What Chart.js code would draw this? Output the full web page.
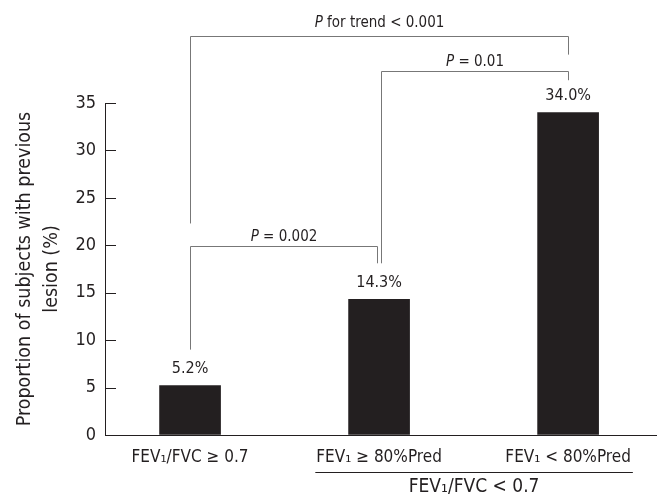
<!DOCTYPE html>
<html>
<head>
<meta charset="utf-8">
<script src="https://cdn.jsdelivr.net/npm/chart.js@4.4.0/dist/chart.umd.min.js"></script>
<style>
  html, body { margin: 0; padding: 0; background: #fff; }
</style>
</head>
<body>
<canvas id="chart" width="657" height="498"></canvas>
<script>
// data
const categories = ['FEV\u2081/FVC \u2265 0.7', 'FEV\u2081 \u2265 80%Pred', 'FEV\u2081 < 80%Pred'];
const proportions = [5.2, 14.3, 34.0];
const yTicks = [0, 5, 10, 15, 20, 25, 30, 35];
const groupLabel = 'FEV\u2081/FVC < 0.7';
const groupMembers = [1, 2];

// comparison brackets (bar index from/to, heights in % units)
const bracketFrom = [0, 1, 0];
const bracketTo = [1, 2, 2];
const bracketText = [' = 0.002', ' = 0.01', ' for trend < 0.001'];
const bracketTop = [19.9, 38.4, 42.1];
const bracketLeftEnd = [9.0, 18.1, 22.3];
const bracketRightEnd = [18.1, 37.4, 40.1];

const FONT = "'Liberation Sans Narrow', 'Arial Narrow', 'DejaVu Sans Condensed', sans-serif";
const INK = '#231f20';
const LINE = '#777777';

const annotations = {
  id: 'annotations',
  afterDraw(chart) {
    const ctx = chart.ctx;
    const x = chart.scales.x, y = chart.scales.y;
    const area = chart.chartArea;
    ctx.save();

    // inward tick marks on the y axis
    ctx.strokeStyle = INK;
    ctx.lineWidth = 1;
    yTicks.forEach(v => {
      const py = Math.round(y.getPixelForValue(v)) + 0.5;
      ctx.beginPath();
      ctx.moveTo(area.left, py);
      ctx.lineTo(area.left + 11, py);
      ctx.stroke();
    });

    // value labels above bars
    ctx.fillStyle = INK;
    ctx.font = '16px ' + FONT;
    ctx.textAlign = 'center';
    ctx.textBaseline = 'middle';
    chart.getDatasetMeta(0).data.forEach((bar, i) => {
      ctx.fillText(proportions[i].toFixed(1) + '%', bar.x, bar.y - 17);
    });

    // brackets
    ctx.strokeStyle = LINE;
    bracketFrom.forEach((a, i) => {
      const b = bracketTo[i];
      let x1 = Math.round(x.getPixelForValue(a)) + 0.5;
      let x2 = Math.round(x.getPixelForValue(b)) + 0.5;
      if (a === 1) x1 += 2;
      if (b === 1) x2 -= 2;
      const yt = Math.round(y.getPixelForValue(bracketTop[i])) + 0.5;
      ctx.beginPath();
      ctx.moveTo(x1, y.getPixelForValue(bracketLeftEnd[i]));
      ctx.lineTo(x1, yt);
      ctx.lineTo(x2, yt);
      ctx.lineTo(x2, y.getPixelForValue(bracketRightEnd[i]));
      ctx.stroke();

      ctx.textAlign = 'left';
      ctx.textBaseline = 'alphabetic';
      ctx.font = 'italic 15px ' + FONT;
      const wP = ctx.measureText('P').width;
      ctx.font = '15px ' + FONT;
      const wR = ctx.measureText(bracketText[i]).width;
      const sx = (x1 + x2) / 2 - (wP + wR) / 2;
      const by = yt - (i === 2 ? 10 : 6);
      ctx.font = 'italic 15px ' + FONT;
      ctx.fillText('P', sx, by);
      ctx.font = '15px ' + FONT;
      ctx.fillText(bracketText[i], sx + wP, by);
    });

    // group line under the two obstructive categories
    ctx.font = '17px ' + FONT;
    const c1 = x.getPixelForValue(groupMembers[0]);
    const c2 = x.getPixelForValue(groupMembers[1]);
    const gl = c1 - ctx.measureText(categories[groupMembers[0]]).width / 2 - 1;
    const gr = c2 + ctx.measureText(categories[groupMembers[1]]).width / 2 + 2;
    ctx.strokeStyle = INK;
    ctx.beginPath();
    ctx.moveTo(gl, 472.5);
    ctx.lineTo(gr, 472.5);
    ctx.stroke();
    ctx.font = '19px ' + FONT;
    ctx.textAlign = 'center';
    ctx.textBaseline = 'middle';
    ctx.fillStyle = INK;
    ctx.fillText(groupLabel, (gl + gr) / 2, 487);

    ctx.restore();
  }
};

new Chart(document.getElementById('chart'), {
  type: 'bar',
  data: {
    datasets: [{
      data: proportions.map((v, i) => ({ x: i, y: v })),
      backgroundColor: INK,
      borderWidth: 0,
      barThickness: 61
    }]
  },
  options: {
    responsive: false,
    animation: false,
    devicePixelRatio: 1,
    layout: { padding: { top: 103, right: 1, left: 0, bottom: 0 } },
    plugins: { legend: { display: false }, tooltip: { enabled: false } },
    scales: {
      x: {
        type: 'linear',
        offset: false,
        min: -0.45,
        max: 2.465,
        afterBuildTicks: s => { s.ticks = categories.map((c, i) => ({ value: i })); },
        afterFit: s => { s.height = 63; },
        grid: { display: true, offset: false, drawOnChartArea: false, drawTicks: false },
        border: { display: true, color: INK, width: 1 },
        ticks: {
          callback: v => categories[v],
          color: INK,
          font: { family: FONT, size: 17 },
          padding: 12,
          maxRotation: 0,
          autoSkip: false
        }
      },
      y: {
        min: 0,
        max: 35,
        afterBuildTicks: s => { s.ticks = yTicks.map(v => ({ value: v })); },
        afterFit: s => { s.width = 105; },
        grid: { display: true, drawOnChartArea: false, drawTicks: false },
        border: { display: true, color: INK, width: 1 },
        ticks: {
          color: INK,
          font: { family: FONT, size: 18 },
          padding: 9
        },
        title: {
          display: true,
          text: ['Proportion of subjects with previous', 'lesion (%)'],
          color: INK,
          font: { family: FONT, size: 19.5, lineHeight: 1.35 },
          padding: { top: 12, bottom: 0 }
        }
      }
    }
  },
  plugins: [annotations]
});
</script>
</body>
</html>
